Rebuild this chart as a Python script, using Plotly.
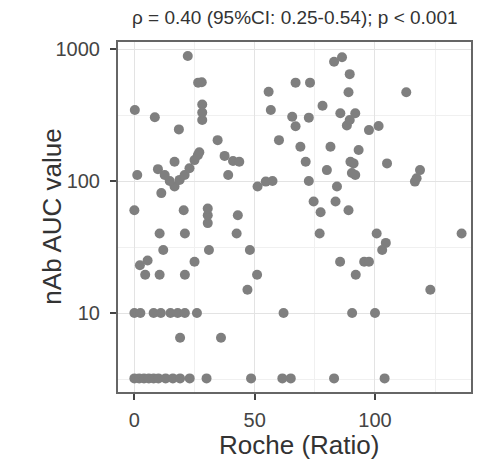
import plotly.graph_objects as go

# Roche antibody ratio vs. neutralising antibody AUC (log scale)
roche_ratio = [
    0, 2, 4, 6, 8, 10, 13, 16, 19, 23, 30, 48.5, 61.5, 65, 83, 104,
    0, 2.5, 8, 11, 15, 18, 21, 26, 62, 90.5, 100,
    19, 36,
    47, 123,
    4.5, 10.5, 21, 51, 92,
    2.3, 5.5, 25, 85.5, 95.5, 97.5,
    12, 31, 48, 103, 104.5,
    10.5, 21, 42.5, 77, 100.7, 136,
    30.5, 30.5, 30.5, 43,
    0, 20.5, 89, 77.4,
    74.5, 83.6,
    11.2,
    16.7, 51.2, 84.2,
    14.7, 18.8, 54.6, 57.4, 72.5, 116.6,
    1.2, 12.6, 20.9, 39, 91.8, 90.4, 117.3,
    9.8, 22.9, 80, 118.7,
    16.7, 25, 41, 43.6, 71.2, 89.8, 91.1, 105,
    26.4, 27, 37.5,
    34.6, 69, 81.5, 93.2, 60.1,
    18.5, 97.5, 101.5, 67, 88.3,
    8.5, 28.2, 65.6, 72.5, 89.5,
    0.2, 28.2, 56.7, 85.6, 91.8,
    28.2, 78.2,
    55.8, 89, 113,
    26.5, 28, 67, 73,
    89.5,
    22.2, 83, 86.3,
]
nab_auc = [
    3.2, 3.2, 3.2, 3.2, 3.2, 3.2, 3.2, 3.2, 3.2, 3.2, 3.2, 3.2, 3.2, 3.2, 3.2, 3.2,
    10, 10, 10, 10, 10, 10, 10, 10, 10, 10, 10,
    6.5, 6.5,
    15, 15,
    19.5, 19.5, 19.5, 19.5, 19.5,
    23, 25, 24.5, 24.5, 24.5, 24.5,
    30, 30, 30, 30, 34,
    40, 40, 40, 40, 40, 40,
    48, 55, 62, 55,
    60, 60, 60, 58,
    70, 70,
    81,
    91, 91, 91,
    100, 102, 99, 100, 100, 99,
    111, 111, 111, 111, 111, 115, 105,
    123, 125, 121, 121,
    140, 144, 142, 140, 140, 140, 136, 136,
    157, 165, 155,
    204, 182, 182, 172, 204,
    246, 243, 261, 260, 263,
    304, 290, 307, 302, 290,
    345, 330, 345, 326, 326,
    380, 372,
    475, 470, 470,
    556, 560, 556, 556,
    645,
    886, 800, 865,
]

x_ticks = [0, 50, 100]
y_ticks = [10, 100, 1000]
title_text = "ρ = 0.40 (95%CI: 0.25-0.54); p < 0.001"

FONT = "Liberation Sans, Arial, sans-serif"

fig = go.Figure(
    go.Scatter(
        x=roche_ratio,
        y=nab_auc,
        mode="markers",
        marker=dict(size=10, color="#7f7f7f", line=dict(width=0)),
        hoverinfo="x+y",
    )
)

fig.update_layout(
    width=479,
    height=461,
    margin=dict(l=118, r=6, t=42, b=69),
    paper_bgcolor="white",
    plot_bgcolor="white",
    showlegend=False,
    font=dict(family=FONT, color="#333333"),
)

axis_common = dict(
    ticks="outside",
    ticklen=6,
    tickwidth=1.5,
    tickcolor="#444444",
    tickfont=dict(size=20, color="#444444"),
    showgrid=True,
    gridcolor="#e3e3e3",
    gridwidth=1.2,
    showline=True,
    linecolor="#666666",
    linewidth=2,
    mirror=True,
    zeroline=False,
)

fig.update_xaxes(
    range=[-6.8, 139.9],
    tickvals=x_ticks,
    ticktext=[str(v) for v in x_ticks],
    ticklabelstandoff=3,
    minor=dict(tickvals=[25, 75, 125], showgrid=True, gridcolor="#f0f0f0", gridwidth=0.8),
    **axis_common,
)

fig.update_yaxes(
    type="log",
    range=[0.402, 3.053],
    tickvals=y_ticks,
    ticktext=[str(v) for v in y_ticks],
    ticklabelstandoff=6,
    minor=dict(tickvals=[3.162, 31.62, 316.2], showgrid=True, gridcolor="#f0f0f0", gridwidth=0.8),
    **axis_common,
)

fig.add_annotation(
    text=title_text, xref="paper", yref="paper", x=0.5, y=1.071,
    showarrow=False, font=dict(size=19, color="#333333"), xanchor="center", yanchor="middle",
)
fig.add_annotation(
    text="Roche (Ratio)", xref="paper", yref="paper", x=0.513, y=-0.151,
    showarrow=False, font=dict(size=26, color="#333333"), xanchor="center", yanchor="middle",
)
fig.add_annotation(
    text="nAb AUC value", xref="paper", yref="paper", x=-0.188, y=0.5,
    textangle=-90, showarrow=False, font=dict(size=26, color="#333333"),
    xanchor="center", yanchor="middle",
)

fig.write_html("out.html")
